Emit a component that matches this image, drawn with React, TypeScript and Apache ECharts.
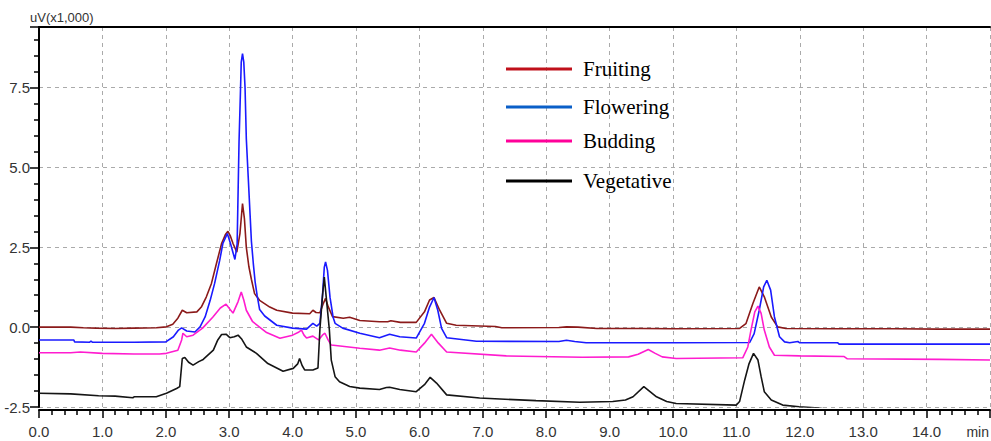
import React, { useEffect, useRef } from "react";
import * as echarts from "echarts";

const seriesNames = ["Fruiting", "Flowering", "Budding", "Vegetative"];
const lineColors = ["#8b1a1a", "#1a1aff", "#ff1ccf", "#151515"];
const legendColors = ["#c0101a", "#0a5fc8", "#ff0099", "#000000"];
const legendCenterY = [69, 107, 141, 181];

const fruiting: [number, number][] = [
  [0.0, 0.0], [0.5, 0.0], [0.7, -0.02], [0.9, -0.03], [1.2, -0.04], [1.5, -0.03], [1.85, -0.02],
  [2.01, 0.01], [2.11, 0.09], [2.19, 0.28], [2.26, 0.53], [2.33, 0.45], [2.49, 0.48], [2.56, 0.63],
  [2.64, 0.95], [2.72, 1.37], [2.8, 2.0], [2.88, 2.62], [2.94, 2.9], [2.98, 3.0], [3.02, 2.85],
  [3.06, 2.62], [3.12, 2.35], [3.17, 2.94], [3.21, 3.87], [3.24, 3.4], [3.27, 2.5], [3.31, 1.9],
  [3.35, 1.5], [3.4, 1.05], [3.48, 0.84], [3.64, 0.63], [3.75, 0.53], [4.0, 0.44], [4.27, 0.42],
  [4.32, 0.53], [4.37, 0.46], [4.43, 0.45], [4.48, 0.72], [4.52, 0.9], [4.56, 0.65], [4.63, 0.33],
  [4.8, 0.28], [4.9, 0.31], [5.06, 0.21], [5.37, 0.17], [5.5, 0.17], [5.55, 0.2], [5.7, 0.15],
  [5.95, 0.15], [6.08, 0.48], [6.16, 0.85], [6.23, 0.93], [6.32, 0.53], [6.43, 0.12], [6.58, 0.06],
  [7.2, 0.02], [7.3, -0.02], [8.2, -0.01], [8.32, 0.01], [8.5, 0.0], [8.8, -0.04], [9.5, -0.04],
  [10.0, -0.05], [11.05, -0.04], [11.15, 0.11], [11.26, 0.74], [11.36, 1.26], [11.44, 0.95],
  [11.55, 0.32], [11.65, 0.01], [11.78, -0.04], [12.5, -0.05], [13.5, -0.05], [14.2, -0.06], [15, -0.06],
];

const flowering: [number, number][] = [
  [0.0, -0.4], [0.55, -0.4], [0.56, -0.46], [0.8, -0.47], [0.82, -0.44], [0.84, -0.47], [1.5, -0.47],
  [2.0, -0.46], [2.12, -0.3], [2.2, -0.09], [2.25, -0.02], [2.33, -0.12], [2.46, -0.15], [2.54, 0.01],
  [2.62, 0.32], [2.7, 0.84], [2.77, 1.37], [2.85, 2.09], [2.9, 2.62], [2.97, 2.93], [3.02, 2.62],
  [3.09, 2.12], [3.125, 2.6], [3.155, 5.8], [3.175, 7.2], [3.19, 8.3], [3.21, 8.57], [3.23, 8.3],
  [3.25, 7.5], [3.27, 5.9], [3.3, 4.7], [3.33, 3.5], [3.35, 2.7], [3.38, 2.0], [3.41, 1.4],
  [3.44, 1.0], [3.48, 0.55], [3.56, 0.35], [3.75, 0.06], [4.0, -0.03], [4.22, -0.06], [4.32, 0.12],
  [4.38, 0.03], [4.43, 0.12], [4.47, 0.95], [4.5, 1.88], [4.52, 2.04], [4.55, 1.78], [4.59, 0.94],
  [4.64, 0.3], [4.67, 0.12], [4.79, -0.03], [5.06, -0.19], [5.37, -0.33], [5.53, -0.22], [5.69, -0.3],
  [5.95, -0.34], [6.08, 0.12], [6.16, 0.63], [6.23, 0.93], [6.29, 0.53], [6.35, -0.04], [6.43, -0.33],
  [6.9, -0.44], [8.2, -0.45], [8.32, -0.41], [8.45, -0.45], [8.63, -0.49], [10.0, -0.49],
  [11.21, -0.48], [11.28, -0.2], [11.36, 0.53], [11.43, 1.26], [11.48, 1.47], [11.54, 1.16],
  [11.6, 0.32], [11.68, -0.3], [11.76, -0.46], [11.84, -0.49], [11.97, -0.45], [12.0, -0.49],
  [12.6, -0.49], [12.62, -0.53], [15, -0.53],
];

const budding: [number, number][] = [
  [0.0, -0.8], [0.5, -0.8], [0.65, -0.78], [1.0, -0.82], [1.5, -0.84], [1.9, -0.84], [2.01, -0.82],
  [2.19, -0.72], [2.25, -0.4], [2.27, -0.19], [2.33, -0.3], [2.43, -0.25], [2.58, -0.03], [2.74, 0.31],
  [2.86, 0.6], [2.95, 0.72], [3.06, 0.44], [3.14, 0.8], [3.19, 1.1], [3.23, 0.85], [3.27, 0.53],
  [3.37, 0.17], [3.59, -0.17], [3.8, -0.35], [4.0, -0.25], [4.1, -0.15], [4.14, -0.09], [4.18, -0.25],
  [4.22, -0.34], [4.32, -0.28], [4.41, -0.4], [4.47, -0.25], [4.51, -0.19], [4.56, -0.4], [4.61, -0.56],
  [5.06, -0.66], [5.37, -0.72], [5.53, -0.65], [5.7, -0.72], [5.95, -0.78], [6.08, -0.5], [6.19, -0.22],
  [6.3, -0.5], [6.43, -0.78], [7.37, -0.9], [8.57, -0.94], [9.3, -0.93], [9.45, -0.85], [9.61, -0.7],
  [9.72, -0.82], [9.83, -0.93], [10.05, -0.98], [11.1, -0.96], [11.18, -0.62], [11.23, -0.09],
  [11.29, 0.48], [11.34, 0.66], [11.39, 0.43], [11.44, -0.09], [11.52, -0.62], [11.6, -0.88],
  [12.0, -0.9], [12.7, -0.92], [12.75, -0.99], [14.2, -1.01], [15, -1.03],
];

const vegetative: [number, number][] = [
  [0.0, -2.07], [0.5, -2.09], [0.94, -2.15], [1.2, -2.16], [1.48, -2.21], [1.5, -2.18], [1.85, -2.18],
  [2.01, -2.07], [2.17, -1.92], [2.22, -1.86], [2.26, -0.98], [2.3, -0.95], [2.36, -1.1], [2.43, -1.19],
  [2.52, -1.08], [2.59, -1.01], [2.75, -0.72], [2.82, -0.4], [2.88, -0.23], [2.95, -0.22], [3.01, -0.33],
  [3.08, -0.3], [3.14, -0.25], [3.2, -0.38], [3.27, -0.62], [3.43, -0.82], [3.61, -1.14], [3.85, -1.38],
  [4.01, -1.29], [4.08, -1.15], [4.11, -0.98], [4.15, -1.2], [4.19, -1.34], [4.32, -1.34], [4.4, -1.28],
  [4.43, -0.09], [4.47, 0.95], [4.5, 1.57], [4.53, 0.95], [4.58, -0.09], [4.61, -1.03], [4.67, -1.55],
  [4.74, -1.71], [4.9, -1.86], [5.06, -1.91], [5.37, -1.95], [5.48, -1.89], [5.53, -1.88], [5.69, -1.95],
  [5.95, -2.02], [6.08, -1.8], [6.17, -1.57], [6.27, -1.75], [6.43, -2.12], [6.95, -2.22], [7.84, -2.3],
  [8.53, -2.35], [9.05, -2.33], [9.25, -2.28], [9.37, -2.18], [9.54, -1.86], [9.74, -2.18], [9.9, -2.33],
  [10.05, -2.39], [11.0, -2.44], [11.05, -2.33], [11.13, -1.66], [11.2, -1.14], [11.27, -0.82],
  [11.34, -1.03], [11.39, -1.55], [11.44, -2.02], [11.55, -2.28], [11.73, -2.44], [11.99, -2.49],
  [12.3, -2.53], [12.5, -2.6], [15, -2.6],
];

const seriesData = [fruiting, flowering, budding, vegetative];

const axisFont = "'Liberation Sans', Arial, sans-serif";

export default function App() {
  const ref = useRef<HTMLDivElement>(null);
  useEffect(() => {
    if (!ref.current) return;
    const chart = echarts.init(ref.current, undefined, { renderer: "svg" });
    const option: any = {
      animation: false,
      backgroundColor: "#ffffff",
      grid: { left: 39, right: 1, top: 27, bottom: 34, containLabel: false },
      legend: seriesNames.map((name, i) => ({
        left: 506,
        top: legendCenterY[i] - 12,
        padding: 0,
        orient: "vertical",
        icon: "rect",
        itemWidth: 66,
        itemHeight: 3,
        selectedMode: false,
        data: [{ name, itemStyle: { color: legendColors[i] } }],
        textStyle: {
          fontFamily: "'Liberation Serif', 'Times New Roman', serif",
          fontSize: 21,
          lineHeight: 24,
          color: "#000",
          padding: [0, 0, 0, 6],
        },
      })),
      xAxis: [
        {
          type: "value",
          min: 0,
          max: 15,
          interval: 1,
          offset: 3,
          axisLine: { show: true, onZero: false, lineStyle: { color: "#000", width: 2 } },
          axisTick: { show: true, inside: false, length: 8, lineStyle: { color: "#000", width: 1.5 } },
          minorTick: { show: true, splitNumber: 5, length: 5, lineStyle: { color: "#000", width: 1.5 } },
          splitLine: { show: true, lineStyle: { color: "#aaaaaa", type: [4, 4], width: 1 } },
          axisLabel: {
            margin: 14,
            fontSize: 15,
            color: "#333",
            fontFamily: axisFont,
            showMaxLabel: false,
            formatter: (v: number) => (v >= 15 ? "" : v.toFixed(1)),
          },
        },
        {
          type: "value",
          position: "top",
          min: 0,
          max: 15,
          axisLine: { show: true, onZero: false, lineStyle: { color: "#000", width: 2 } },
          axisTick: { show: false },
          axisLabel: { show: false },
          splitLine: { show: false },
        },
      ],
      yAxis: {
        type: "value",
        min: -2.5,
        max: 9.4,
        interval: 2.5,
        axisLine: { show: true, onZero: false, lineStyle: { color: "#000", width: 2 } },
        axisTick: { show: true, inside: false, length: 9, lineStyle: { color: "#000", width: 1.5 } },
        minorTick: { show: true, splitNumber: 5, length: 5, lineStyle: { color: "#000", width: 1.5 } },
        splitLine: { show: true, lineStyle: { color: "#aaaaaa", type: [4, 4], width: 1 } },
        axisLabel: {
          margin: 9,
          fontSize: 15,
          color: "#333",
          fontFamily: axisFont,
          showMaxLabel: false,
          formatter: (v: number) => (v > 9 ? "" : v.toFixed(1)),
        },
      },
      graphic: [
        {
          type: "text",
          left: 30,
          top: 11,
          style: { text: "uV(x1,000)", fontSize: 13, fill: "#333", fontFamily: axisFont },
        },
        {
          type: "text",
          right: 2,
          top: 425,
          style: { text: "min", fontSize: 14, fill: "#333", fontFamily: axisFont },
        },
      ],
      series: seriesNames.map((name, i) => ({
        name,
        type: "line",
        data: seriesData[i],
        showSymbol: false,
        symbol: "none",
        clip: true,
        color: lineColors[i],
        lineStyle: { color: lineColors[i], width: 1.6 },
        z: 2 + i,
      })),
    };
    chart.setOption(option);
    return () => chart.dispose();
  }, []);
  return (
    <div
      ref={ref}
      style={{ position: "absolute", left: 0, top: 0, width: 991, height: 441 }}
    />
  );
}
